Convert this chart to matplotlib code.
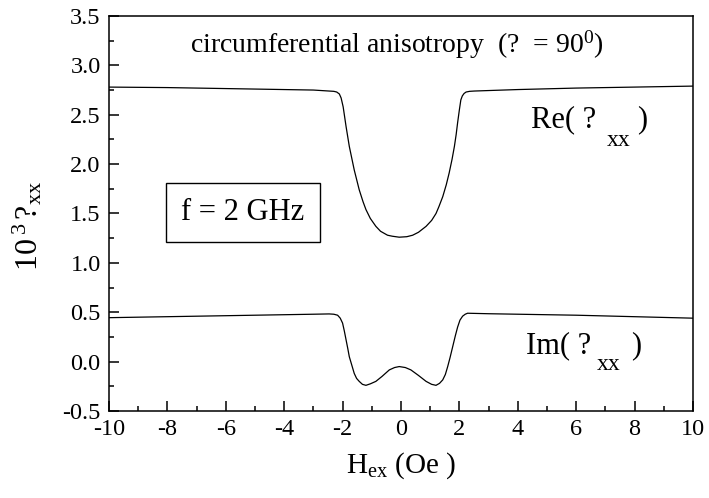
import numpy as np
import matplotlib
matplotlib.use('Agg')
import matplotlib.pyplot as plt
from matplotlib.ticker import MultipleLocator

plt.rcParams['font.family'] = 'Liberation Serif'
plt.rcParams['mathtext.fontset'] = 'custom'
plt.rcParams['mathtext.rm'] = 'Liberation Serif'
plt.rcParams['mathtext.it'] = 'Liberation Serif:italic'
plt.rcParams['axes.unicode_minus'] = False

# Re(chi_xx)
h_re = [-10, -8, -6, -4, -3, -2.46, -2.3, -2.2, -2.11, -2.05, -1.98, -1.93, -1.88,
        -1.77, -1.60, -1.43, -1.30, -1.20, -1.05, -0.86, -0.70, -0.46, -0.30,
        -0.06, 0.20, 0.40, 0.60, 0.86, 1.05, 1.20, 1.30, 1.43, 1.55, 1.65,
        1.75, 1.83, 1.89, 1.94, 2.00, 2.05, 2.10, 2.16, 2.23, 2.35, 2.51,
        3, 4, 6, 8, 10]
re_chi = [2.78, 2.775, 2.765, 2.755, 2.75, 2.74, 2.737, 2.73, 2.71, 2.67, 2.58, 2.48, 2.38,
          2.18, 1.94, 1.74, 1.62, 1.54, 1.45, 1.37, 1.32, 1.28, 1.27,
          1.26, 1.265, 1.28, 1.31, 1.37, 1.43, 1.50, 1.57, 1.67, 1.79, 1.91,
          2.05, 2.18, 2.30, 2.42, 2.55, 2.65, 2.69, 2.715, 2.73, 2.737, 2.74,
          2.745, 2.755, 2.77, 2.78, 2.79]

# Im(chi_xx)
h_im = [-10, -8, -6, -4, -3, -2.46, -2.3, -2.17, -2.08, -2.0, -1.94, -1.88, -1.82,
        -1.77, -1.68, -1.60, -1.52, -1.43, -1.32, -1.20, -1.05, -0.86, -0.65,
        -0.40, -0.22, -0.06, 0.15, 0.34, 0.60, 0.86, 1.05, 1.20, 1.32, 1.43,
        1.52, 1.60, 1.68, 1.77, 1.86, 1.94, 2.02, 2.11, 2.20, 2.28,
        3, 4, 6, 8, 10]
im_chi = [0.445, 0.455, 0.465, 0.475, 0.48, 0.483, 0.48, 0.47, 0.44, 0.39, 0.31, 0.22, 0.13,
          0.05, -0.04, -0.12, -0.17, -0.20, -0.23, -0.24, -0.225, -0.20, -0.15,
          -0.084, -0.06, -0.05, -0.06, -0.084, -0.14, -0.20, -0.23, -0.24, -0.22, -0.185,
          -0.13, -0.05, 0.04, 0.15, 0.26, 0.35, 0.42, 0.46, 0.48, 0.49,
          0.485, 0.48, 0.47, 0.455, 0.44]

fig = plt.figure(figsize=(7.09, 4.98), dpi=100)
ax = fig.add_axes([0.1537, 0.1747, 0.8237, 0.7932])

ax.plot(h_re, re_chi, color='black', lw=0.9, solid_joinstyle='round')
ax.plot(h_im, im_chi, color='black', lw=0.9, solid_joinstyle='round')

ax.set_xlim(-10, 10)
ax.set_ylim(-0.5, 3.5)
ax.xaxis.set_major_locator(MultipleLocator(2))
ax.xaxis.set_minor_locator(MultipleLocator(1))
ax.yaxis.set_minor_locator(MultipleLocator(0.25))
ax.set_yticks(np.arange(-0.5, 3.51, 0.5))
ax.set_yticklabels(['%.1f' % v for v in np.arange(-0.5, 3.51, 0.5)])
ax.tick_params(which='both', direction='in', top=False, right=False, labelsize=17.5)
ax.tick_params(which='major', length=7, width=1.1, pad=6)
ax.tick_params(which='minor', length=3.5, width=1.1)
for s in ax.spines.values():
    s.set_linewidth(1.1)

ax.set_xlabel(r'H$_{\mathrm{ex}}$ (Oe )', fontsize=21, labelpad=7)
ax.set_ylabel(r'10$\,^{3}\,$?$_{\mathrm{xx}}$', fontsize=23)
ax.yaxis.set_label_coords(-0.11, 0.47)

ax.text(-0.14, 3.13, r'circumferential anisotropy  (?  = 90$^{0}$)',
        fontsize=20, ha='center', va='baseline')

ax.text(4.46, 2.37, 'Re( ?', fontsize=22, va='baseline')
ax.text(7.05, 2.18, 'xx', fontsize=17, va='baseline')
ax.text(8.10, 2.37, ')', fontsize=22, va='baseline')

ax.text(4.29, 0.088, 'Im( ?', fontsize=22, va='baseline')
ax.text(6.72, -0.084, 'xx', fontsize=17, va='baseline')
ax.text(7.89, 0.088, ')', fontsize=22, va='baseline')

ax.text(-5.42, 1.51, 'f = 2 GHz', fontsize=22, ha='center', va='center',
        bbox=dict(boxstyle='square,pad=0.5', fc='white', ec='black', lw=1.0))

fig.savefig('out.png', dpi=100)
plt.close()
